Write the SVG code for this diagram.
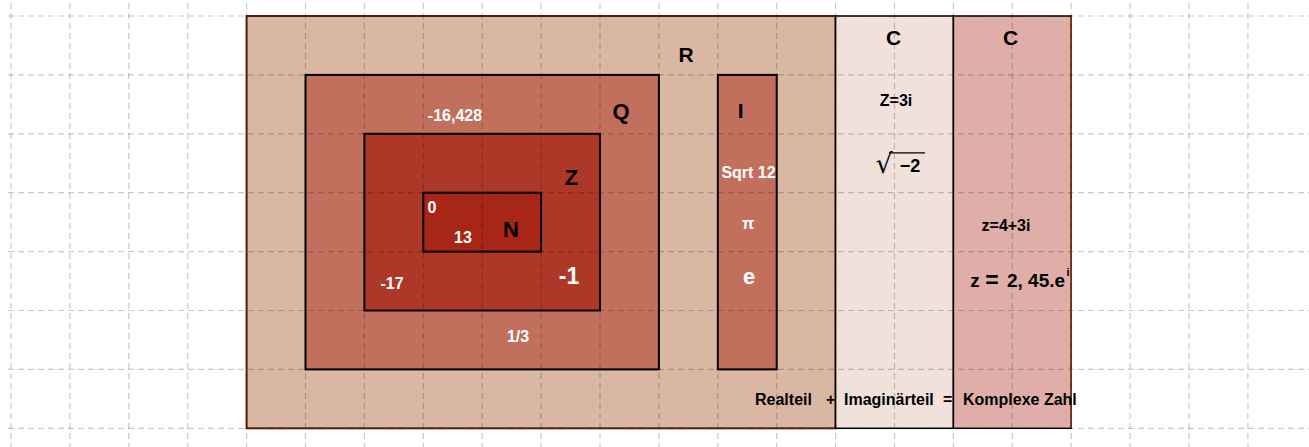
<svg xmlns="http://www.w3.org/2000/svg" width="1309" height="447" viewBox="0 0 1309 447">
<style>
text{font-family:"Liberation Sans",Arial,sans-serif;font-weight:bold;text-anchor:middle}
.b{fill:#000}
.w{fill:#fff}
.set{stroke:#000;stroke-width:2}
.grid line{stroke:#000;stroke-opacity:0.21;stroke-width:1.2;stroke-dasharray:6 4}
</style>
<rect width="1309" height="447" fill="#fff"/>
<g id="R">
<rect x="246.6" y="16" width="588.9" height="412.3" fill="#dab7a3" stroke="#5a2008" stroke-width="2"/>
<text class="b" x="686" y="62" font-size="21">R</text>
</g>
<g id="Q">
<rect class="set" x="305.5" y="74.9" width="353.4" height="294.5" fill="#c36f5e"/>
<text class="b" x="621" y="119" font-size="22">Q</text>
<text class="w" x="455" y="120.5" font-size="16">-16,428</text>
<text class="w" x="518" y="341.5" font-size="16">1/3</text>
</g>
<g id="Z">
<rect class="set" x="364.4" y="133.8" width="235.6" height="176.7" fill="#ad3828"/>
<text class="b" x="571.5" y="185" font-size="22">Z</text>
<text class="w" x="392" y="289" font-size="16">-17</text>
<text class="w" x="569" y="284" font-size="23">-1</text>
</g>
<g id="N">
<rect class="set" x="423.3" y="192.7" width="117.8" height="58.9" fill="#a82617"/>
<text class="b" x="511" y="236.5" font-size="22">N</text>
<text class="w" x="432" y="213" font-size="16">0</text>
<text class="w" x="463" y="243" font-size="16">13</text>
</g>
<g id="I">
<rect class="set" x="717.8" y="74.9" width="58.9" height="294.5" fill="#c36f5e"/>
<text class="b" x="740.7" y="117.5" font-size="21">I</text>
<text class="w" x="748.5" y="177.5" font-size="16">Sqrt 12</text>
<text class="w" x="748" y="229" font-size="16">π</text>
<text class="w" x="749" y="284" font-size="22">e</text>
</g>
<g id="C1">
<rect x="835.6" y="16" width="117.8" height="412.3" fill="#f0e1da" stroke="#000" stroke-width="1.5"/>
<text class="b" x="893.5" y="44.5" font-size="21">C</text>
<text class="b" x="896" y="106" font-size="16">Z=3i</text>
<text x="884" y="173" font-size="27" style="font-family:'DejaVu Sans',sans-serif;font-weight:normal">√</text>
<line x1="889" y1="152.8" x2="925" y2="152.8" stroke="#000" stroke-width="1.2"/>
<text class="b" x="910" y="172.3" font-size="18">−2</text>
</g>
<g id="C2">
<rect x="953.4" y="16" width="117.8" height="412.3" fill="#e0aea8" stroke="#000" stroke-width="1.5"/>
<line x1="1071.2" y1="16" x2="1071.2" y2="428.3" stroke="#8b3a1a" stroke-width="1.5"/>
<text class="b" x="1010.5" y="44.7" font-size="21">C</text>
<text class="b" x="1006" y="230.7" font-size="16">z=4+3i</text>
<text class="b" x="975" y="287.3" font-size="19">z</text>
<text class="b" x="992" y="288" font-size="23">=</text>
<text class="b" x="1036" y="287.3" font-size="19">2, 45.e</text>
<text class="b" x="1068" y="276" font-size="11">i</text>
</g>
<g id="legend">
<text class="b" font-size="16" y="405" style="text-anchor:start"><tspan x="755">Realteil</tspan><tspan x="826">+</tspan><tspan x="844">Imaginärteil</tspan><tspan x="943">=</tspan><tspan x="963">Komplexe Zahl</tspan></text>
</g>
<g id="connectors"/>
<g class="grid">
<line x1="11" y1="3" x2="11" y2="447"/>
<line x1="69.9" y1="3" x2="69.9" y2="447"/>
<line x1="128.8" y1="3" x2="128.8" y2="447"/>
<line x1="187.7" y1="3" x2="187.7" y2="447"/>
<line x1="246.6" y1="3" x2="246.6" y2="447"/>
<line x1="305.5" y1="3" x2="305.5" y2="447"/>
<line x1="364.4" y1="3" x2="364.4" y2="447"/>
<line x1="423.3" y1="3" x2="423.3" y2="447"/>
<line x1="482.2" y1="3" x2="482.2" y2="447"/>
<line x1="541.1" y1="3" x2="541.1" y2="447"/>
<line x1="600" y1="3" x2="600" y2="447"/>
<line x1="658.9" y1="3" x2="658.9" y2="447"/>
<line x1="717.8" y1="3" x2="717.8" y2="447"/>
<line x1="776.7" y1="3" x2="776.7" y2="447"/>
<line x1="835.6" y1="3" x2="835.6" y2="447"/>
<line x1="894.5" y1="3" x2="894.5" y2="447"/>
<line x1="953.4" y1="3" x2="953.4" y2="447"/>
<line x1="1012.3" y1="3" x2="1012.3" y2="447"/>
<line x1="1071.2" y1="3" x2="1071.2" y2="447"/>
<line x1="1130.1" y1="3" x2="1130.1" y2="447"/>
<line x1="1189" y1="3" x2="1189" y2="447"/>
<line x1="1247.9" y1="3" x2="1247.9" y2="447"/>
<line x1="8" y1="16" x2="1309" y2="16"/>
<line x1="8" y1="74.9" x2="1309" y2="74.9"/>
<line x1="8" y1="133.8" x2="1309" y2="133.8"/>
<line x1="8" y1="192.7" x2="1309" y2="192.7"/>
<line x1="8" y1="251.6" x2="1309" y2="251.6"/>
<line x1="8" y1="310.5" x2="1309" y2="310.5"/>
<line x1="8" y1="369.4" x2="1309" y2="369.4"/>
<line x1="8" y1="428.3" x2="1309" y2="428.3"/>
</g>
</svg>
